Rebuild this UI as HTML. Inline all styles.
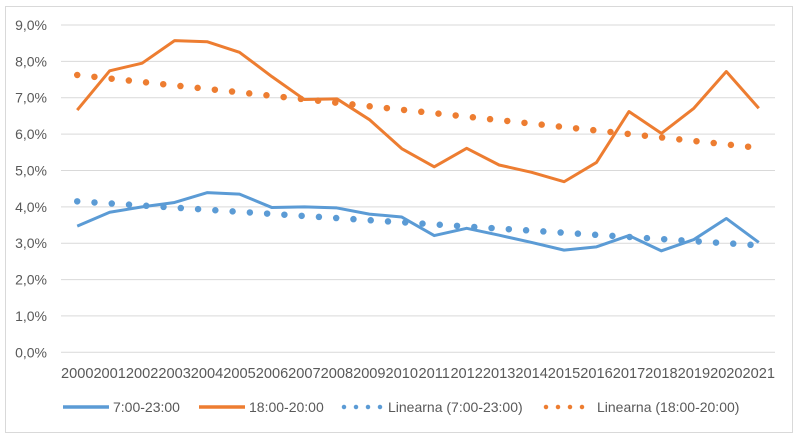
<!DOCTYPE html>
<html><head><meta charset="utf-8"><style>
body{margin:0;background:#fff;}
svg{display:block;font-family:"Liberation Sans",sans-serif;}
</style></head><body>
<svg id="c" width="799" height="440" xmlns="http://www.w3.org/2000/svg">
<rect x="5.5" y="6.5" width="787" height="426" fill="#fff" stroke="#d9d9d9"/>
<g id="grid"></g>
<g id="yax"></g>
<g id="xax"></g>
<g id="series"></g>
<g font-size="14" fill="#595959">
<g><line x1="63" y1="407" x2="109" y2="407" stroke="#5b9bd5" stroke-width="3.5"/><text x="113" y="412">7:00-23:00</text></g>
<g><line x1="199" y1="407" x2="245" y2="407" stroke="#ed7d31" stroke-width="3.5"/><text x="249" y="412">18:00-20:00</text></g>
<g><line x1="344" y1="407" x2="382" y2="407" stroke="#5b9bd5" stroke-width="4.5" stroke-linecap="round" stroke-dasharray="0 12"/><text x="388" y="412">Linearna (7:00-23:00)</text></g>
<g><line x1="546" y1="407" x2="584" y2="407" stroke="#ed7d31" stroke-width="4.5" stroke-linecap="round" stroke-dasharray="0 12"/><text x="597" y="412">Linearna (18:00-20:00)</text></g>
</g>
</svg>
<script>
const years=["2000","2001","2002","2003","2004","2005","2006","2007","2008","2009","2010","2011","2012","2013","2014","2015","2016","2017","2018","2019","2020","2021"];
const blue=[3.47,3.85,4.0,4.12,4.39,4.35,3.98,4.0,3.97,3.8,3.72,3.21,3.41,3.22,3.02,2.81,2.9,3.21,2.79,3.1,3.68,3.02];
const orange=[6.66,7.74,7.95,8.57,8.54,8.25,7.58,6.95,6.97,6.4,5.6,5.1,5.61,5.15,4.95,4.69,5.22,6.62,6.02,6.71,7.72,6.71];
const yTicks=["0,0%","1,0%","2,0%","3,0%","4,0%","5,0%","6,0%","7,0%","8,0%","9,0%"];
const NS="http://www.w3.org/2000/svg";
const X0=61,X1=775,Y0=352.3,Y9=25;
const band=(X1-X0)/years.length;
const xs=i=>X0+band*(i+0.5);
const ys=v=>Y0-(Y0-Y9)*v/9;
function mk(t,a,p){const e=document.createElementNS(NS,t);for(const k in a)e.setAttribute(k,a[k]);p.appendChild(e);return e;}
const grid=document.getElementById('grid'),yax=document.getElementById('yax'),xax=document.getElementById('xax'),ser=document.getElementById('series');
yTicks.forEach((t,i)=>{
 const l=mk('line',{x1:X0,x2:X1,y1:ys(i),y2:ys(i),stroke:'#d9d9d9','stroke-width':1},grid);
 
 
 const tx=mk('text',{x:47,y:ys(i)+5,'text-anchor':'end','font-size':'14',fill:'#595959'},yax);
 tx.textContent=t;
 
 
});
years.forEach((y,i)=>{
 const tx=mk('text',{x:xs(i),y:378,'text-anchor':'middle','font-size':'14.6',fill:'#595959'},xax);
 tx.textContent=y;
 
 
});
function trend(d){const n=d.length;let sx=0,sy=0,sxx=0,sxy=0;d.forEach((v,i)=>{sx+=i;sy+=v;sxx+=i*i;sxy+=i*v;});const b=(n*sxy-sx*sy)/(n*sxx-sx*sx),a=(sy-b*sx)/n;return [a,b];}
function trendLine(d,col,name){const [a,b]=trend(d);const n=d.length-1;
 const l=mk('line',{x1:xs(0),y1:ys(a),x2:xs(n),y2:ys(a+b*n),stroke:col,'stroke-width':6.5,'stroke-linecap':'round','stroke-dasharray':'0 17.3'},ser);
 
 }
function line(d,col,name){const p=mk('polyline',{points:d.map((v,i)=>xs(i)+','+ys(v)).join(' '),fill:'none',stroke:col,'stroke-width':3,'stroke-linejoin':'round'},ser);
 
 }
trendLine(orange,'#ed7d31','trend-18-20');
trendLine(blue,'#5b9bd5','trend-7-23');
line(orange,'#ed7d31','series-18-20');
line(blue,'#5b9bd5','series-7-23');
</script>
</body></html>
